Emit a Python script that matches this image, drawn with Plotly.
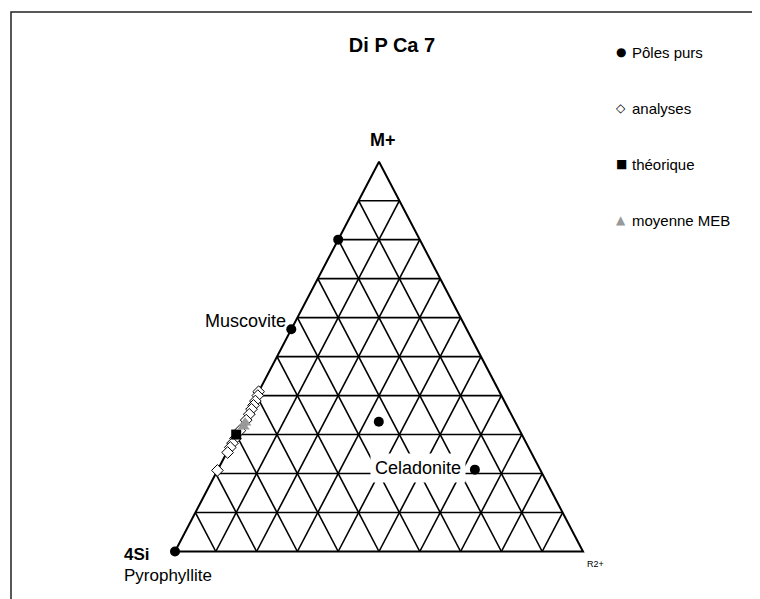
import plotly.graph_objects as go

# ternary fractions, order (4Si, R2+, M+); 4Si = 1 - R2+ - M+
poles_r2 = [0.0, 0.0, 0.0, 0.333, 0.63]
poles_m = [0.0, 0.80, 0.57, 0.333, 0.21]

analyses_m = [0.41, 0.40, 0.386, 0.375, 0.365, 0.352, 0.337, 0.31, 0.29,
              0.278, 0.267, 0.254, 0.208]
analyses_r2 = [0.0, 0.003, 0.004, 0.005, 0.005, 0.006, 0.006, 0.004, 0.003,
               0.002, 0.002, 0.002, 0.0]

theo_m = [0.30]
theo_r2 = [0.0]

meb_m = [0.32, 0.33]
meb_r2 = [0.008, 0.007]

grid_levels = [0.1, 0.2, 0.3, 0.4, 0.5, 0.6, 0.7, 0.8, 0.9]

legend_names = ["Pôles purs", "analyses", "théorique", "moyenne MEB"]
legend_syms = ["●", "◇", "■", "▲"]
legend_cols = ["black", "black", "black", "#999999"]

# page has an 8px body margin, so the figure is 8px smaller than the window
OFF = 8
FW, FH = 760 - OFF, 599 - OFF


def to_xy(r2, m):
    # 4Si bottom-left, R2+ bottom-right, M+ top
    xs = [b + 0.5 * c for b, c in zip(r2, m)]
    return xs, list(m)


def seg(p, q):
    x, y = to_xy([p[0], q[0]], [p[1], q[1]])
    return x + [None], y + [None]


gx, gy = [], []
for k in grid_levels:
    for p, q in [((0, k), (1 - k, k)),          # constant M+
                 ((k, 0), (k, 1 - k)),          # constant R2+
                 ((1 - k, 0), (0, 1 - k))]:     # constant 4Si
        x, y = seg(p, q)
        gx += x
        gy += y

ex, ey = to_xy([0, 1, 0, 0], [0, 0, 1, 0])

fig = go.Figure()
fig.add_trace(go.Scatter(x=gx, y=gy, mode="lines",
                         line=dict(color="black", width=1.6), hoverinfo="skip"))
fig.add_trace(go.Scatter(x=ex, y=ey, mode="lines",
                         line=dict(color="black", width=2), hoverinfo="skip"))

px_, py_ = to_xy(poles_r2, poles_m)
fig.add_trace(go.Scatter(x=px_, y=py_, mode="markers", name=legend_names[0],
                         marker=dict(symbol="circle", size=10, color="black")))
ax_, ay_ = to_xy(analyses_r2, analyses_m)
fig.add_trace(go.Scatter(x=ax_, y=ay_, mode="markers", name=legend_names[1],
                         marker=dict(symbol="diamond", size=9, color="white",
                                     line=dict(color="black", width=1))))
tx_, ty_ = to_xy(theo_r2, theo_m)
fig.add_trace(go.Scatter(x=tx_, y=ty_, mode="markers", name=legend_names[2],
                         marker=dict(symbol="square", size=10, color="black")))
mx_, my_ = to_xy(meb_r2, meb_m)
fig.add_trace(go.Scatter(x=mx_, y=my_, mode="markers", name=legend_names[3],
                         marker=dict(symbol="triangle-up", size=11, color="#999999")))

# where the triangle sits in the figure (pixels)
x0px, x1px = 175 - OFF, 583 - OFF
y0px, y1px = 551.5 - OFF, 161.7 - OFF
sx = x1px - x0px
sy = y0px - y1px
xr = [-x0px / sx, (FW - x0px) / sx]
yr = [-(FH - y0px) / sy, y0px / sy]

FONT = "Liberation Sans, Arial, sans-serif"
ann = []


def label(text, x, y, size, xanchor="center", xshift=0, yshift=0, **kw):
    ann.append(dict(text=text, x=x, y=y, xref="x", yref="y", showarrow=False,
                    xanchor=xanchor, yanchor="middle", xshift=xshift, yshift=yshift,
                    font=dict(family=FONT, size=size, color="black"), **kw))


label("<b>M+</b>", ex[2], ey[2], 18, xshift=4, yshift=22)
label("<b>4Si</b>", ex[0], ey[0], 17, xanchor="left", xshift=-53, yshift=-3)
label("Pyrophyllite", ex[0], ey[0], 17, xanchor="left", xshift=-53, yshift=-24)
label("R2+", ex[1], ey[1], 9, xanchor="left", xshift=2, yshift=-12)
label("Muscovite", px_[2], py_[2], 18, xanchor="right", xshift=-3, yshift=8)
label("Celadonite", px_[4], py_[4], 18, xanchor="right", xshift=-9, yshift=2,
      bgcolor="white", borderpad=4)


def paper(xpx, ypx):
    return (xpx - OFF) / FW, 1 - (ypx - OFF) / FH


# legend key, evenly spaced like the original
leg_y = [52, 108, 164, 220]
for sym, col, name, ypx in zip(legend_syms, legend_cols, legend_names, leg_y):
    gxp, gyp = paper(621, ypx)
    ann.append(dict(text=sym, x=gxp, y=gyp, xref="paper", yref="paper",
                    showarrow=False, xanchor="center", yanchor="middle",
                    font=dict(family="DejaVu Sans", size=12, color=col)))
    txp, typ = paper(630, ypx)
    ann.append(dict(text=name, x=txp, y=typ, xref="paper", yref="paper",
                    showarrow=False, xanchor="left", yanchor="middle",
                    font=dict(family=FONT, size=15, color="black")))

tx, ty = paper(392, 45)
bx0, by1 = paper(11, 12)

fig.update_layout(
    width=FW, height=FH,
    margin=dict(l=0, r=0, t=0, b=0),
    paper_bgcolor="white", plot_bgcolor="white",
    showlegend=False,
    title=dict(text="<b>Di P Ca 7</b>", x=tx, y=ty,
               xanchor="center", yanchor="middle",
               font=dict(family=FONT, size=20, color="black")),
    xaxis=dict(range=xr, visible=False, fixedrange=True),
    yaxis=dict(range=yr, visible=False, fixedrange=True),
    annotations=ann,
    shapes=[dict(type="rect", xref="paper", yref="paper",
                 x0=bx0, x1=1.02, y0=-0.02, y1=by1,
                 line=dict(color="#222222", width=1.5))],
)

fig.write_html("out.html")
